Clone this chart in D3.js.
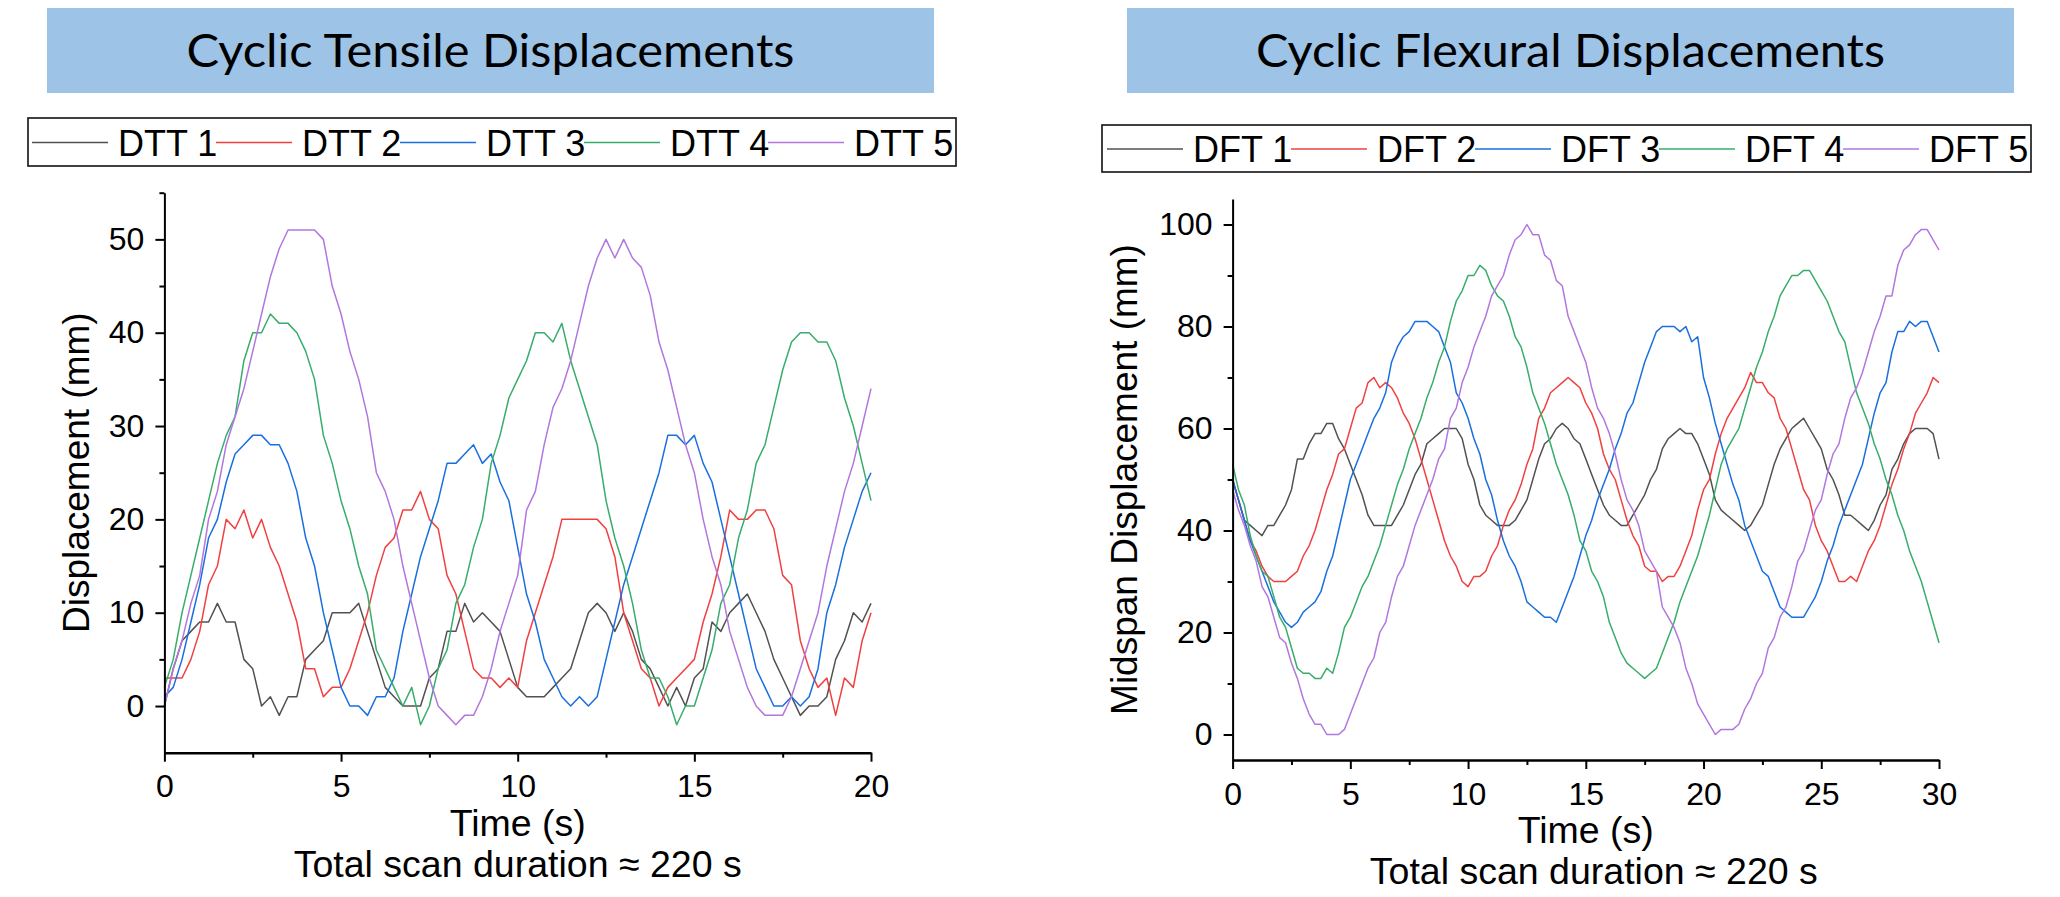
<!DOCTYPE html>
<html>
<head>
<meta charset="utf-8">
<script src="https://cdn.jsdelivr.net/npm/d3@7"></script>
<style>
  html, body { margin: 0; padding: 0; background: #fff; }
  svg { display: block; font-family: "Liberation Sans", Arial, sans-serif; }
</style>
</head>
<body>
<svg id="chart" width="2060" height="897"></svg>
<script>
// sampling interval of both scans (s)
const step = 0.25;

const tensileNames = ["DTT 1", "DTT 2", "DTT 3", "DTT 4", "DTT 5"];
const dtt1 = [0, 4, 7, 8, 9, 9, 11, 9, 9, 5, 4, 0, 1, -1, 1, 1, 5, 6, 7, 10, 10, 10, 11, 8, 5, 2, 1, 0, 0, 0, 3, 4, 8, 8, 11, 9, 10, 9, 8, 5, 2, 1, 1, 1, 2, 3, 4, 7, 10, 11, 10, 8, 10, 8, 5, 4, 2, 0, 2, 0, 3, 4, 9, 8, 10, 11, 12, 10, 8, 5, 3, 1, -1, 0, 0, 1, 5, 7, 10, 9, 11];
const dtt2 = [3, 3, 3, 5, 8, 13, 15, 20, 19, 21, 18, 20, 17, 15, 12, 9, 4, 4, 1, 2, 2, 4, 7, 10, 14, 17, 18, 21, 21, 23, 20, 19, 14, 12, 8, 4, 3, 3, 2, 3, 2, 7, 10, 13, 16, 20, 20, 20, 20, 20, 19, 16, 10, 7, 4, 3, 0, 2, 3, 4, 5, 9, 12, 16, 21, 20, 20, 21, 21, 19, 14, 13, 7, 4, 2, 3, -1, 3, 2, 7, 10];
const dtt3 = [1, 2, 5, 9, 13, 18, 20, 24, 27, 28, 29, 29, 28, 28, 26, 23, 18, 15, 10, 6, 2, 0, 0, -1, 1, 1, 3, 8, 12, 16, 19, 22, 26, 26, 27, 28, 26, 27, 24, 22, 17, 12, 9, 5, 3, 1, 0, 1, 0, 1, 5, 9, 13, 16, 19, 22, 25, 29, 29, 28, 29, 26, 24, 20, 16, 12, 8, 4, 2, 0, 0, 1, 0, 1, 4, 10, 13, 17, 20, 23, 25];
const dtt4 = [2, 5, 10, 14, 18, 22, 26, 29, 31, 37, 40, 40, 42, 41, 41, 40, 38, 35, 29, 26, 22, 19, 15, 12, 6, 4, 2, 0, 2, -2, 0, 4, 6, 11, 13, 17, 20, 26, 29, 33, 35, 37, 40, 40, 39, 41, 37, 34, 31, 28, 22, 18, 15, 11, 6, 3, 3, 1, -2, 0, 0, 3, 6, 11, 13, 18, 21, 26, 28, 32, 36, 39, 40, 40, 39, 39, 37, 33, 30, 26, 22];
const dtt5 = [0, 4, 7, 11, 14, 20, 23, 28, 31, 34, 38, 42, 46, 49, 51, 51, 51, 51, 50, 45, 42, 38, 35, 31, 25, 23, 20, 15, 11, 7, 3, 0, -1, -2, -1, -1, 1, 4, 8, 11, 14, 21, 23, 28, 32, 34, 37, 41, 45, 48, 50, 48, 50, 48, 47, 44, 39, 36, 32, 28, 25, 20, 16, 13, 8, 5, 2, 0, -1, -1, -1, 1, 4, 7, 10, 15, 19, 23, 26, 30, 34];

const flexuralNames = ["DFT 1", "DFT 2", "DFT 3", "DFT 4", "DFT 5"];
const dft1 = [50, 46, 42, 41, 40, 39, 41, 41, 43, 45, 48, 54, 54, 57, 59, 59, 61, 61, 58, 56, 53, 50, 47, 43, 41, 41, 41, 41, 43, 45, 48, 51, 53, 57, 58, 59, 60, 60, 60, 58, 53,
  50, 45, 43, 42, 41, 41, 41, 42, 44, 46, 50, 54, 57, 58, 60, 61, 60, 58, 57, 54, 51, 48, 45, 43, 42, 41, 41, 43, 45, 47, 50, 52, 56, 58, 59, 60, 59, 59, 57, 54,
  51, 46, 44, 43, 42, 41, 40, 41, 43, 45, 49, 53, 56, 58, 60, 61, 62, 60, 58, 56, 52, 50, 47, 43, 43, 42, 41, 40, 42, 45, 47, 52, 54, 57, 59, 60, 60, 60, 59, 54];
const dft2 = [50, 46, 42, 38, 36, 33, 31, 30, 30, 30, 31, 32, 35, 37, 40, 44, 48, 51, 55, 56, 60, 64, 65, 69, 70, 68, 69, 68, 66, 63, 61, 58, 54, 50, 46, 42, 38, 35, 33, 30, 29,
  31, 31, 32, 35, 37, 41, 44, 46, 49, 53, 56, 62, 64, 67, 68, 69, 70, 69, 68, 65, 63, 60, 55, 52, 50, 46, 42, 39, 37, 33, 32, 32, 30, 31, 31, 33, 36, 39, 44, 48,
  50, 55, 59, 62, 64, 66, 68, 71, 69, 69, 67, 66, 62, 60, 56, 52, 48, 46, 41, 38, 36, 33, 30, 30, 31, 30, 33, 36, 38, 41, 45, 49, 52, 56, 59, 63, 65, 67, 70, 69];
const dft3 = [50, 46, 42, 38, 35, 32, 29, 26, 24, 22, 21, 22, 24, 25, 26, 28, 32, 35, 40, 45, 50, 53, 56, 59, 62, 64, 67, 73, 76, 78, 79, 81, 81, 81, 80, 79, 76, 73, 67, 65, 62,
  58, 55, 50, 47, 42, 38, 35, 33, 30, 26, 25, 24, 23, 23, 22, 25, 28, 31, 35, 39, 42, 46, 49, 52, 56, 59, 63, 65, 69, 73, 76, 79, 80, 80, 80, 79, 80, 77, 78, 70,
  66, 61, 57, 53, 49, 46, 41, 38, 35, 32, 31, 28, 25, 24, 23, 23, 23, 25, 27, 30, 34, 37, 41, 44, 47, 50, 53, 58, 63, 67, 69, 75, 79, 79, 81, 80, 81, 81, 78, 75];
const dft4 = [53, 48, 45, 39, 35, 32, 31, 27, 23, 21, 17, 13, 12, 12, 11, 11, 13, 12, 16, 21, 23, 26, 29, 31, 34, 37, 41, 45, 49, 52, 56, 59, 62, 66, 69, 73, 76, 81, 85, 87, 90,
  90, 92, 91, 88, 86, 85, 82, 78, 76, 72, 67, 64, 61, 57, 53, 50, 47, 43, 38, 36, 32, 30, 27, 22, 19, 16, 14, 13, 12, 11, 12, 13, 16, 19, 22, 26, 29, 32, 35, 39,
  43, 48, 53, 56, 58, 60, 64, 68, 72, 75, 79, 82, 86, 88, 90, 90, 91, 91, 89, 87, 85, 82, 79, 77, 72, 67, 64, 61, 57, 54, 50, 47, 43, 40, 36, 33, 30, 26, 22, 18];
const dft5 = [48, 44, 41, 37, 34, 29, 27, 23, 19, 18, 14, 11, 7, 4, 2, 2, 0, 0, 0, 1, 4, 7, 10, 13, 15, 20, 22, 27, 31, 33, 37, 41, 44, 47, 50, 54, 56, 62, 64, 69, 72,
  76, 79, 82, 86, 88, 90, 94, 97, 98, 100, 98, 98, 94, 93, 89, 88, 82, 79, 76, 73, 68, 64, 62, 59, 55, 50, 46, 44, 41, 36, 34, 32, 25, 23, 21, 18, 13, 10, 6, 4,
  2, 0, 1, 1, 1, 2, 5, 7, 10, 12, 17, 19, 23, 25, 29, 34, 36, 40, 44, 46, 51, 55, 57, 62, 66, 68, 71, 75, 79, 82, 86, 86, 92, 95, 96, 98, 99, 99, 97, 95];

const lineColors = ["#515151", "#F14040", "#1A6FDF", "#37AD6B", "#B177DE"];

const tensileXTicks = [0, 5, 10, 15, 20];
const tensileXMinor = [2.5, 7.5, 12.5, 17.5];
const tensileYTicks = [0, 10, 20, 30, 40, 50];
const tensileYMinor = [5, 15, 25, 35, 45, 55];

const flexuralXTicks = [0, 5, 10, 15, 20, 25, 30];
const flexuralXMinor = [2.5, 7.5, 12.5, 17.5, 22.5, 27.5];
const flexuralYTicks = [0, 20, 40, 60, 80, 100];
const flexuralYMinor = [10, 30, 50, 70, 90];

const svg = d3.select("#chart");

function drawPanel(p) {
    const g = svg.append("g");

    g.append("rect")
        .attr("x", p.box[0])
        .attr("y", p.box[1])
        .attr("width", p.box[2] - p.box[0])
        .attr("height", p.box[3] - p.box[1])
        .attr("fill", "#9DC3E6");

    g.append("text")
        .attr("x", (p.box[0] + p.box[2]) / 2)
        .attr("y", p.box[1] + 58.5)
        .attr("text-anchor", "middle")
        .attr("textLength", p.titleWidth)
        .attr("lengthAdjust", "spacingAndGlyphs")
        .style("font-family", "Lato, 'Open Sans', sans-serif")
        .style("font-size", "46px")
        .text(p.title);

    // legend row
    const lg = p.legend;
    g.append("rect")
        .attr("x", lg.box[0])
        .attr("y", lg.box[1])
        .attr("width", lg.box[2] - lg.box[0])
        .attr("height", lg.box[3] - lg.box[1])
        .attr("fill", "none")
        .attr("stroke", "#111")
        .attr("stroke-width", 1.6);

    const item = g.selectAll("g.item")
      .data(p.series)
      .join("g")
        .attr("class", "item")
        .attr("transform", (d, i) => `translate(${lg.x + i * 184},${lg.y})`);

    item.append("line")
        .attr("x1", 0)
        .attr("x2", 76)
        .attr("stroke", (d, i) => lineColors[i])
        .attr("stroke-width", 1.6);

    item.append("text")
        .attr("x", 86)
        .attr("y", 13)
        .style("font-size", "36px")
        .text(d => d.name);

    const x = d3.scaleLinear().domain(p.xDomain).range([p.plot[0], p.plot[2]]);
    const y = d3.scaleLinear().domain(p.yDomain).range([p.plot[3], p.plot[1]]);

    const line = d3.line()
        .x((d, i) => x(i * step))
        .y(d => y(d));

    g.selectAll("path.series")
      .data(p.series)
      .join("path")
        .attr("class", "series")
        .attr("fill", "none")
        .attr("stroke", (d, i) => lineColors[i])
        .attr("stroke-width", 1.5)
        .attr("stroke-linejoin", "round")
        .attr("d", d => line(d.values));

    // minor ticks first, then the labelled axes on top
    g.append("g")
        .attr("transform", `translate(0,${p.plot[3]})`)
        .call(d3.axisBottom(x).tickValues(p.xMinor).tickSize(5).tickFormat(""))
        .call(a => a.select(".domain").remove())
        .call(a => a.selectAll("line").attr("stroke-width", 2));

    g.append("g")
        .attr("transform", `translate(${p.plot[0]},0)`)
        .call(d3.axisLeft(y).tickValues(p.yMinor).tickSize(5).tickFormat(""))
        .call(a => a.select(".domain").remove())
        .call(a => a.selectAll("line").attr("stroke-width", 2));

    const xAxis = g.append("g")
        .attr("transform", `translate(0,${p.plot[3]})`)
        .call(d3.axisBottom(x).tickValues(p.xTicks).tickSize(9).tickPadding(13).tickSizeOuter(0));

    const yAxis = g.append("g")
        .attr("transform", `translate(${p.plot[0]},0)`)
        .call(d3.axisLeft(y).tickValues(p.yTicks).tickSize(9).tickPadding(11).tickSizeOuter(0));

    xAxis.select(".domain").attr("stroke-width", 2.6);
    yAxis.select(".domain").attr("stroke-width", 2);
    [xAxis, yAxis].forEach(a => {
        a.attr("font-family", null).attr("font-size", null);
        a.selectAll(".tick line").attr("stroke-width", 2);
        a.selectAll(".tick text").style("font-size", "32px").attr("fill", "#000");
    });

    const cx = (p.plot[0] + p.plot[2]) / 2;

    g.append("text")
        .attr("x", cx)
        .attr("y", p.plot[3] + 83)
        .attr("text-anchor", "middle")
        .style("font-size", "37.5px")
        .text("Time (s)");

    g.append("text")
        .attr("x", cx + p.noteShift)
        .attr("y", p.plot[3] + 124)
        .attr("text-anchor", "middle")
        .style("font-size", "37.5px")
        .text("Total scan duration \u2248 220 s");

    g.append("text")
        .attr("transform", `translate(${p.yTitleX},${(p.plot[1] + p.plot[3]) / 2}) rotate(-90)`)
        .attr("text-anchor", "middle")
        .style("font-size", "37px")
        .text(p.yTitle);
}

drawPanel({
    title: "Cyclic Tensile Displacements",
    titleWidth: 608,
    box: [47, 8, 934, 93],
    legend: { box: [28, 118, 956, 166], x: 32, y: 142.5 },
    plot: [164.4, 192.7, 871, 752.7],
    xDomain: [0, 20],
    yDomain: [-5, 55],
    xTicks: tensileXTicks,
    xMinor: tensileXMinor,
    yTicks: tensileYTicks,
    yMinor: tensileYMinor,
    yTitle: "Displacement (mm)",
    yTitleX: 89,
    noteShift: 0,
    series: [dtt1, dtt2, dtt3, dtt4, dtt5].map((v, i) => ({ name: tensileNames[i], values: v }))
});

drawPanel({
    title: "Cyclic Flexural Displacements",
    titleWidth: 629,
    box: [1127, 8, 2014, 93],
    legend: { box: [1102, 125, 2031, 172], x: 1107, y: 149 },
    plot: [1232.6, 199, 1939, 760],
    xDomain: [0, 30],
    yDomain: [-5, 105],
    xTicks: flexuralXTicks,
    xMinor: flexuralXMinor,
    yTicks: flexuralYTicks,
    yMinor: flexuralYMinor,
    yTitle: "Midspan Displacement (mm)",
    yTitleX: 1137,
    noteShift: 8,
    series: [dft1, dft2, dft3, dft4, dft5].map((v, i) => ({ name: flexuralNames[i], values: v }))
});
</script>
</body>
</html>
